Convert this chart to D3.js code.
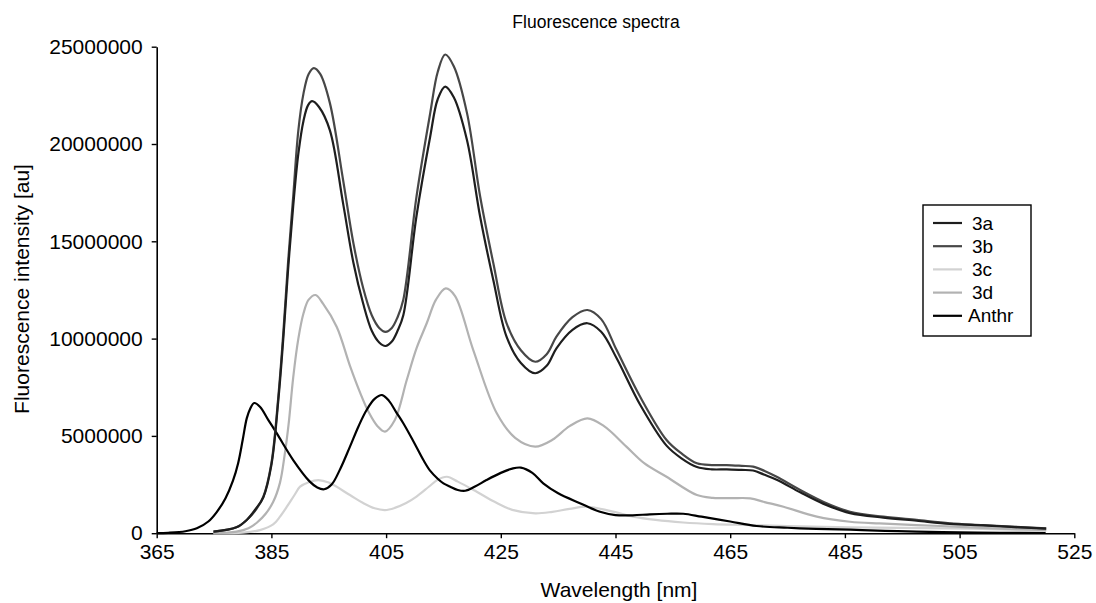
<!DOCTYPE html>
<html>
<head>
<meta charset="utf-8">
<script src="https://cdn.jsdelivr.net/npm/d3@7"></script>
<style>
  html, body { margin: 0; padding: 0; background: #fff; }
  svg { display: block; font-family: "Liberation Sans", Arial, Helvetica, sans-serif; }
</style>
</head>
<body>
<svg id="chart" width="1096" height="603"></svg>
<script>
// Fluorescence spectra, intensity in millions [au]

const xTicks = [365, 385, 405, 425, 445, 465, 485, 505, 525];
const yTicks = [0, 5000000, 10000000, 15000000, 20000000, 25000000];

const seriesNames = ['3a', '3b', '3c', '3d', 'Anthr'];
const seriesColors = ['#1e1e1e', '#474747', '#d2d2d2', '#b2b2b2', '#000000'];

// [wavelength nm, intensity (millions)]
const s3a = [
  [374.9, 0.08], [378.9, 0.3], [380.7, 0.68], [382.4, 1.3], [383.6, 1.85], [385, 3.5],
  [386.2, 6.8], [387.1, 10.1], [387.9, 13.5], [388.8, 16.8], [389.7, 19.5], [390.6, 21.2],
  [391.4, 22.0], [392.1, 22.2], [393.3, 21.9], [395.2, 20.7], [397.5, 16.95], [399.3, 13.9],
  [401, 11.8], [402.5, 10.4], [403.8, 9.8], [404.9, 9.62], [406, 9.85], [407, 10.4],
  [408, 11.2], [410.3, 16.3],
  [412.7, 20.4], [414, 22.3], [415.3, 22.95], [416.8, 22.4], [419.1, 20.2], [421.4, 16.26],
  [423.7, 13.0], [426, 10.1], [428.5, 8.75], [431, 8.22], [433, 8.6], [434.7, 9.5],
  [437.5, 10.45], [440.1, 10.79], [442.5, 10.35], [445.2, 8.99], [449.3, 6.6], [453.9, 4.5],
  [456.5, 3.85], [459.2, 3.4], [461.8, 3.28], [464.4, 3.28], [467, 3.25], [469, 3.22],
  [471, 3.0], [473.1, 2.75], [477.2, 2.1], [481.2, 1.52], [485.9, 1.03], [491.7, 0.8],
  [497.5, 0.64], [503.3, 0.48], [509.1, 0.4], [514, 0.32], [520.1, 0.24]
];

const s3b = [
  [374.9, 0.08], [378.9, 0.3], [380.7, 0.68], [382.4, 1.25], [383.6, 1.88], [385, 3.6],
  [386.2, 7.0], [387.1, 10.4], [387.9, 13.9], [388.8, 17.3], [389.7, 20.7], [390.6, 22.6],
  [391.5, 23.6], [392.4, 23.9], [393.5, 23.6], [395.2, 22.1], [397.5, 18.15], [399.3, 14.9],
  [401, 12.6], [402.5, 11.2], [403.8, 10.55], [404.9, 10.35], [406, 10.55], [407, 11.1],
  [408, 12.0], [410.3, 17.3],
  [412.7, 21.6], [414, 23.7], [415.3, 24.6], [416.8, 24.0], [419.1, 21.6], [421.4, 17.3],
  [423.7, 13.87], [426, 10.8], [428.5, 9.4], [431, 8.81], [433, 9.2], [434.7, 10.1],
  [437.5, 11.1], [440.1, 11.47], [442.5, 11.0], [445.2, 9.41], [449.3, 7.01], [453.9, 4.79],
  [456.5, 4.1], [459.2, 3.59], [461.8, 3.5], [464.4, 3.5], [467, 3.46], [469, 3.42],
  [471, 3.2], [473.1, 2.9], [477.2, 2.22], [481.2, 1.62], [485.9, 1.1], [491.7, 0.85],
  [497.5, 0.68], [503.3, 0.51], [509.1, 0.42], [514, 0.34], [520.1, 0.25]
];

const s3c = [
  [374.9, 0], [380, 0.03], [383, 0.16], [385.3, 0.45], [386.5, 0.85], [387.7, 1.36],
  [389, 1.95], [390, 2.39], [391.5, 2.62], [393.2, 2.73], [395, 2.6], [398.7, 1.96],
  [401, 1.55], [403, 1.28], [404.8, 1.19], [406.5, 1.3], [408.5, 1.55], [410.3, 1.88],
  [412.5, 2.4], [414, 2.75], [415.6, 2.9], [417.5, 2.65], [420.8, 2.13], [424, 1.6],
  [427, 1.2], [431, 1.02], [434, 1.1], [437, 1.25], [440.1, 1.36], [444, 1.15],
  [448.1, 0.85], [452, 0.68], [456.8, 0.55], [462, 0.47], [468.5, 0.42], [475, 0.36],
  [485.9, 0.3], [495, 0.27], [503.3, 0.25], [512, 0.2], [520.1, 0.13]
];

const s3d = [
  [374.9, 0], [378.9, 0.08], [381, 0.25], [382.5, 0.55], [384, 1.0], [385.3, 1.6],
  [386.5, 2.6], [387.3, 4.0], [388, 5.6], [388.8, 8.0], [389.7, 10.0], [390.6, 11.3],
  [391.5, 12.0], [392.7, 12.24], [394, 11.8], [396.4, 10.6], [398.7, 8.6], [400.5, 7.2],
  [402, 6.2], [403.5, 5.5], [404.8, 5.22], [406.5, 5.8], [408.6, 7.87], [410.3, 9.5], [412.1, 10.8],
  [413.7, 12.0], [415.4, 12.58], [417, 12.2], [420.2, 9.41], [424.3, 6.16], [427.5, 4.9],
  [431, 4.45], [434, 4.8], [437, 5.5], [440.1, 5.9], [443, 5.5], [446.9, 4.45],
  [450, 3.6], [453.9, 2.9], [459.2, 1.96], [462, 1.82], [465, 1.8], [468.5, 1.79],
  [471, 1.6], [474.3, 1.36], [480.1, 0.85], [485.9, 0.59], [491, 0.5], [497.5, 0.42],
  [505, 0.33], [512, 0.24], [520.1, 0.16]
];

const sAnthr = [
  [365, 0], [367, 0.02], [370, 0.1], [372, 0.25], [374, 0.6], [375.5, 1.1], [377, 1.8],
  [378.3, 2.7], [379.2, 3.6], [380, 4.8], [380.7, 5.9], [381.3, 6.4], [382, 6.69],
  [383, 6.5], [384.5, 5.8], [386, 5.1], [388.8, 3.76], [391.7, 2.65], [393, 2.35],
  [394.2, 2.26], [395.5, 2.5], [397, 3.3], [398.7, 4.45], [400.2, 5.5], [401.6, 6.33],
  [403, 6.9], [404.3, 7.1], [405.5, 6.8], [406.8, 6.2], [408, 5.65], [409.8, 4.7],
  [411.5, 3.76], [412.7, 3.2], [414, 2.8], [415, 2.56], [416.1, 2.4], [417.5, 2.22],
  [418.8, 2.18], [420.5, 2.4], [422.5, 2.73], [425, 3.1], [427, 3.32], [428.5, 3.37],
  [430.5, 3.1], [432.4, 2.56], [435, 2.05], [438.8, 1.54], [442.3, 1.1], [445, 0.93],
  [448, 0.92], [451, 0.97], [454, 1.0], [456.8, 1.0], [460, 0.85], [465, 0.6],
  [469.6, 0.37], [475, 0.28], [480, 0.22], [486, 0.18], [492, 0.12], [497.5, 0.08],
  [505, 0.04], [512, 0.02], [520, 0.01]
];

const seriesData = [s3a, s3b, s3c, s3d, sAnthr];

const svg = d3.select('#chart');
const margin = { top: 46.7, right: 21.7, bottom: 69.8, left: 156.7 };
const width = 1096, height = 603;

const x = d3.scaleLinear()
  .domain([365, 525])
  .range([margin.left, width - margin.right]);

const y = d3.scaleLinear()
  .domain([0, 25000000])
  .range([height - margin.bottom, margin.top]);

// Title
svg.append('text')
  .attr('x', 596)
  .attr('y', 28)
  .attr('text-anchor', 'middle')
  .attr('font-size', '17.5px')
  .attr('fill', '#000')
  .text('Fluorescence spectra');

// Axes
const xAxis = d3.axisBottom(x)
  .tickValues(xTicks)
  .tickSize(5)
  .tickSizeOuter(0)
  .tickPadding(6)
  .tickFormat(d3.format('d'));

const yAxis = d3.axisLeft(y)
  .tickValues(yTicks)
  .tickSize(5)
  .tickSizeOuter(0)
  .tickPadding(9)
  .tickFormat(d3.format('d'));

const gx = svg.append('g')
  .attr('transform', `translate(0,${y(0)})`)
  .call(xAxis);

const gy = svg.append('g')
  .attr('transform', `translate(${x(365)},0)`)
  .call(yAxis);

[gx, gy].forEach(g => {
  g.selectAll('path.domain').attr('stroke', '#000').attr('stroke-width', 1.6);
  g.selectAll('.tick line').attr('stroke', '#000').attr('stroke-width', 1.4);
  g.selectAll('.tick text')
    .attr('fill', '#000')
    .attr('font-size', '21px')
    .attr('font-family', '"Liberation Sans", Arial, sans-serif');
});

// Axis labels
svg.append('text')
  .attr('x', 619)
  .attr('y', 597)
  .attr('text-anchor', 'middle')
  .attr('font-size', '21px')
  .attr('fill', '#000')
  .text('Wavelength [nm]');

svg.append('text')
  .attr('transform', 'translate(29,289) rotate(-90)')
  .attr('text-anchor', 'middle')
  .attr('font-size', '21px')
  .attr('fill', '#000')
  .text('Fluorescence intensity [au]');

// Lines
const line = d3.line()
  .x(d => x(d[0]))
  .y(d => y(d[1] * 1e6))
  .curve(d3.curveCatmullRom.alpha(0.5));

// draw light ones first so dark curves stay on top
const drawOrder = [2, 3, 4, 1, 0];
drawOrder.forEach(i => {
  svg.append('path')
    .datum(seriesData[i])
    .attr('fill', 'none')
    .attr('stroke', seriesColors[i])
    .attr('stroke-width', 2.2)
    .attr('stroke-linejoin', 'round')
    .attr('d', line);
});

// Legend
const legend = svg.append('g').attr('transform', 'translate(923,205)');

legend.append('rect')
  .attr('width', 108)
  .attr('height', 131)
  .attr('fill', '#fff')
  .attr('stroke', '#000')
  .attr('stroke-width', 1.4);

seriesNames.forEach((name, i) => {
  const row = legend.append('g').attr('transform', `translate(0,${18 + i * 23.2})`);
  row.append('line')
    .attr('x1', 10).attr('x2', 39)
    .attr('stroke', seriesColors[i])
    .attr('stroke-width', 2.2);
  row.append('text')
    .attr('x', name === 'Anthr' ? 45 : 49)
    .attr('y', 0)
    .attr('dy', '0.35em')
    .attr('font-size', '19px')
    .attr('fill', '#000')
    .text(name);
});
</script>
</body>
</html>
